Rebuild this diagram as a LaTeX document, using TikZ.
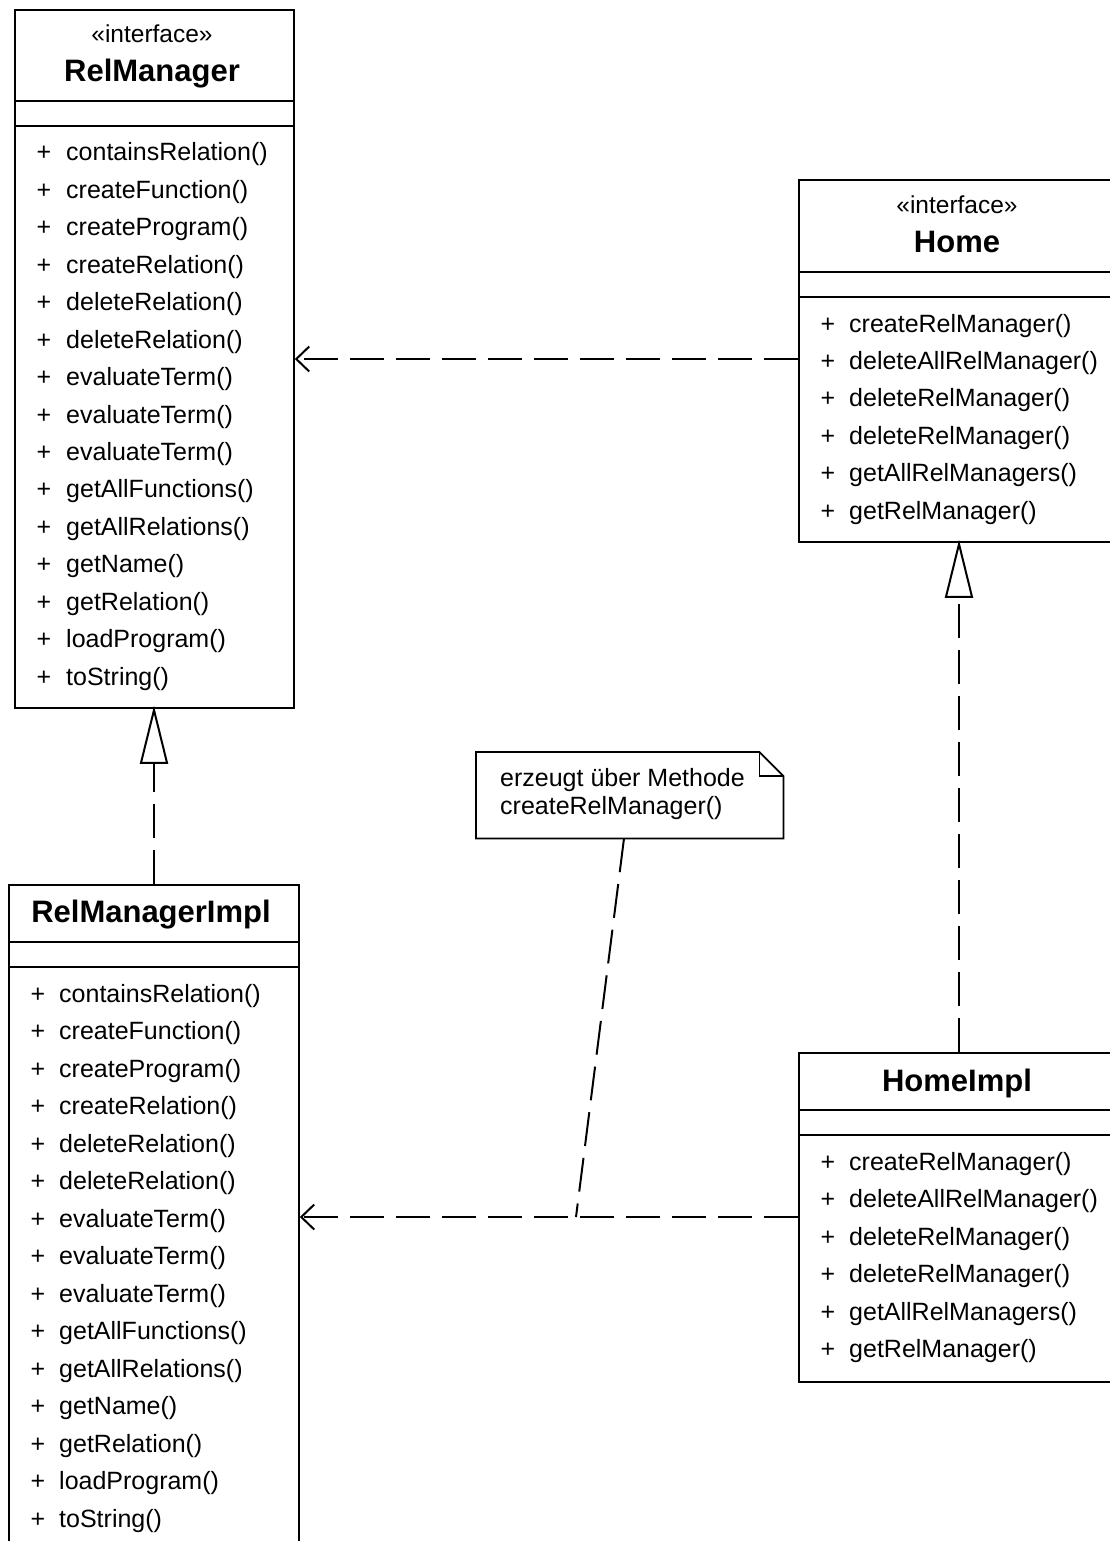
\documentclass[tikz,border=0pt]{standalone}
\usepackage{fontspec}
\setmainfont{Liberation Sans}
\usetikzlibrary{arrows.meta}

% one row per operation: "+" marker and operation name
\newcommand\opsrows[6]{%
  \foreach \op [count=\k from 0] in {#6} {
    \node[meth, anchor=base] (#1p\k) at (#2, #4+\k*#5) {+};
    \node[meth, anchor=base west] (#1m\k) at (#3, #4+\k*#5) {\op};
  }}

\begin{document}
\begin{tikzpicture}[x=1pt, y=-1pt,
  umlbox/.style={draw, line width=1.8pt, inner sep=0pt, anchor=north west},
  sepline/.style={line width=1.8pt},
  meth/.style={font=\fontsize{25}{29}\selectfont, inner sep=0pt},
  stereo/.style={font=\fontsize{24.5}{28}\selectfont, inner sep=0pt, anchor=base},
  ctitle/.style={font=\fontsize{31}{35}\selectfont\bfseries, inner sep=0pt, anchor=base},
  dashline/.style={line width=2pt, dash pattern=on 34pt off 12pt},
  realize/.style={dashline, shorten >=-3pt, -{Triangle[open, length=58pt, width=28pt, line width=2pt]}},
  depend/.style={dashline, -{Straight Barb[length=13pt, width=25pt, line width=2pt]}},
]
\useasboundingbox (0,0) rectangle (1110,1541);
\clip (0,0) rectangle (1110,1541);

% ---------- RelManager ----------
\node[umlbox, minimum width=279pt, minimum height=698pt] (rm) at (14,9) {};
\draw[sepline] (rm.west |- 0,101) -- (rm.east |- 0,101);
\draw[sepline] (rm.west |- 0,126) -- (rm.east |- 0,126);
\node[stereo] (rmst) at (152,43) {«interface»};
\node[ctitle] (rmt) at (152,82) {RelManager};
\opsrows{rm}{44}{66}{161}{37.43}{containsRelation(), createFunction(), createProgram(), createRelation(), deleteRelation(), deleteRelation(), evaluateTerm(), evaluateTerm(), evaluateTerm(), getAllFunctions(), getAllRelations(), getName(), getRelation(), loadProgram(), toString()}

% ---------- Home ----------
\node[umlbox, minimum width=318pt, minimum height=362pt] (home) at (798,179) {};
\draw[sepline] (home.west |- 0,272) -- (home.east |- 0,272);
\draw[sepline] (home.west |- 0,297) -- (home.east |- 0,297);
\node[stereo] (homest) at (957,214) {«interface»};
\node[ctitle] (homet) at (957,252) {Home};
\opsrows{ho}{828}{849}{332}{37.45}{createRelManager(), deleteAllRelManager(), deleteRelManager(), deleteRelManager(), getAllRelManagers(), getRelManager()}

% ---------- RelManagerImpl ----------
\node[umlbox, minimum width=290pt, minimum height=690pt] (rmi) at (8,884) {};
\draw[sepline] (rmi.west |- 0,942) -- (rmi.east |- 0,942);
\draw[sepline] (rmi.west |- 0,967) -- (rmi.east |- 0,967);
\node[ctitle] (rmit) at (151,922) {RelManagerImpl};
\opsrows{ri}{38}{59}{1002}{37.5}{containsRelation(), createFunction(), createProgram(), createRelation(), deleteRelation(), deleteRelation(), evaluateTerm(), evaluateTerm(), evaluateTerm(), getAllFunctions(), getAllRelations(), getName(), getRelation(), loadProgram(), toString()}

% ---------- HomeImpl ----------
\node[umlbox, minimum width=318pt, minimum height=329pt] (hi) at (798,1052) {};
\draw[sepline] (hi.west |- 0,1110) -- (hi.east |- 0,1110);
\draw[sepline] (hi.west |- 0,1135) -- (hi.east |- 0,1135);
\node[ctitle] (hit) at (957,1091) {HomeImpl};
\opsrows{hi}{828}{849}{1170}{37.5}{createRelManager(), deleteAllRelManager(), deleteRelManager(), deleteRelManager(), getAllRelManagers(), getRelManager()}

% ---------- note ----------
\node[inner sep=0pt, minimum width=307pt, minimum height=86pt, anchor=north west] (note) at (476,752) {};
\draw[line width=1.8pt, line join=miter]
  (note.north west) -- ([xshift=-24pt]note.north east) -- ([yshift=-24pt]note.north east)
  -- (note.south east) -- (note.south west) -- cycle;
\draw[line width=1.8pt]
  ([xshift=-24pt]note.north east) -- ([xshift=-24pt, yshift=-24pt]note.north east)
  -- ([yshift=-24pt]note.north east);
\node[meth, anchor=base west] (notel1) at (500,786) {erzeugt über Methode};
\node[meth, anchor=base west] (notel2) at (500,814) {createRelManager()};

% ---------- connectors ----------
\draw[realize] (rmi.north -| 154,0) -- (rm.south -| 154,0);
\draw[realize] (hi.north -| 959,0) -- (home.south -| 959,0);
\draw[depend] (home.west |- 0,359) -- (rm.east |- 0,359);
\draw[depend] (hi.west |- 0,1217) -- (rmi.east |- 0,1217);
\coordinate (link) at (576,1217);
\draw[dashline] (note.south -| 624,0) -- (link);

\end{tikzpicture}
\end{document}
